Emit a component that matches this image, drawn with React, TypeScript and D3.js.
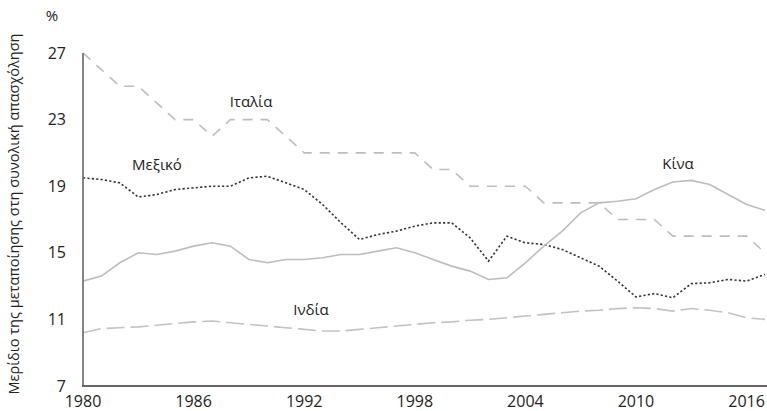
import React, { useEffect } from "react";
import * as d3 from "d3";

const years = d3.range(1980, 2018);
const italy = [27, 26, 25, 25, 24, 23, 23, 22, 23, 23, 23, 22, 21, 21, 21, 21, 21, 21, 21, 20, 20, 19, 19, 19, 19, 18, 18, 18, 18, 17, 17, 17, 16, 16, 16, 16, 16, 15];
const mexico = [19.5, 19.4, 19.2, 18.35, 18.5, 18.8, 18.9, 19.0, 19.0, 19.5, 19.6, 19.2, 18.8, 17.9, 16.8, 15.8, 16.1, 16.3, 16.6, 16.8, 16.8, 15.9, 14.5, 16.0, 15.6, 15.5, 15.2, 14.7, 14.2, 13.3, 12.35, 12.55, 12.3, 13.15, 13.2, 13.4, 13.3, 13.7];
const china = [13.3, 13.6, 14.4, 15.0, 14.9, 15.1, 15.4, 15.6, 15.4, 14.6, 14.4, 14.6, 14.6, 14.7, 14.9, 14.9, 15.1, 15.3, 15.0, 14.6, 14.2, 13.9, 13.4, 13.5, 14.4, 15.4, 16.3, 17.4, 18.0, 18.1, 18.25, 18.8, 19.25, 19.35, 19.1, 18.5, 17.9, 17.55];
const india = [10.2, 10.45, 10.5, 10.55, 10.65, 10.75, 10.85, 10.9, 10.8, 10.7, 10.6, 10.5, 10.4, 10.3, 10.3, 10.4, 10.5, 10.6, 10.7, 10.8, 10.85, 10.95, 11.0, 11.1, 11.2, 11.3, 11.4, 11.5, 11.55, 11.65, 11.7, 11.65, 11.5, 11.65, 11.55, 11.4, 11.1, 11.0];
const yTicks = [7, 11, 15, 19, 23, 27];
const xTicks = [1980, 1986, 1992, 1998, 2004, 2010, 2016];
const seriesNames = ["Ιταλία", "Μεξικό", "Κίνα", "Ινδία"];
const yTitle = "Μερίδιο της μεταποίησης στη συνολική απασχόληση";
const unit = "%";

const W = 767;
const H = 411;
const FONT = "'Open Sans', 'Noto Sans', sans-serif";

export default function App() {
  useEffect(() => {
    document.body.style.margin = "0";
  }, []);

  const x = d3.scaleLinear().domain([1980, 2017]).range([83, 765]);
  const y = d3.scaleLinear().domain([7, 27]).range([386, 53]);
  const line = d3
    .line<number>()
    .x((_, i) => x(years[i]))
    .y((d) => y(d));

  const series = [
    { name: seriesNames[0], data: italy, stroke: "#bdbdbd", dash: "10,8", width: 1.6, lx: 251, ly: 102 },
    { name: seriesNames[1], data: mexico, stroke: "#333", dash: "2.2,2.2", width: 1.6, lx: 157, ly: 165 },
    { name: seriesNames[2], data: china, stroke: "#bdbdbd", dash: null, width: 1.6, lx: 678, ly: 164 },
    { name: seriesNames[3], data: india, stroke: "#c2c2c2", dash: "18,6", width: 1.6, lx: 311, ly: 310 },
  ];

  return (
    <svg width={W} height={H} style={{ display: "block", background: "#fff" }} fontFamily={FONT}>
      {series.map((s) => (
        <path
          key={s.name}
          d={line(s.data) || ""}
          fill="none"
          stroke={s.stroke}
          strokeWidth={s.width}
          strokeDasharray={s.dash || undefined}
        />
      ))}
      <line x1={83} x2={83} y1={53} y2={387} stroke="#777" strokeWidth={1.8} />
      <line x1={82} x2={767} y1={386} y2={386} stroke="#666" strokeWidth={1.8} />
      {yTicks.map((t) => (
        <text key={t} x={66} y={y(t)} dy="0.35em" textAnchor="end" fontSize={16} fill="#222">
          {t}
        </text>
      ))}
      {xTicks.map((t) => (
        <text key={t} x={x(t)} y={407} textAnchor="middle" fontSize={16} fill="#222">
          {t}
        </text>
      ))}
      <text x={52} y={16} dy="0.35em" textAnchor="middle" fontSize={15} fill="#222">
        {unit}
      </text>
      <text
        transform={`translate(14,214) rotate(-90)`}
        textAnchor="middle"
        dy="0.35em"
        fontSize={14.5}
        fill="#222"
      >
        {yTitle}
      </text>
      {series.map((s) => (
        <text key={s.name + "l"} x={s.lx} y={s.ly} dy="0.35em" textAnchor="middle" fontSize={15} fill="#222">
          {s.name}
        </text>
      ))}
    </svg>
  );
}
